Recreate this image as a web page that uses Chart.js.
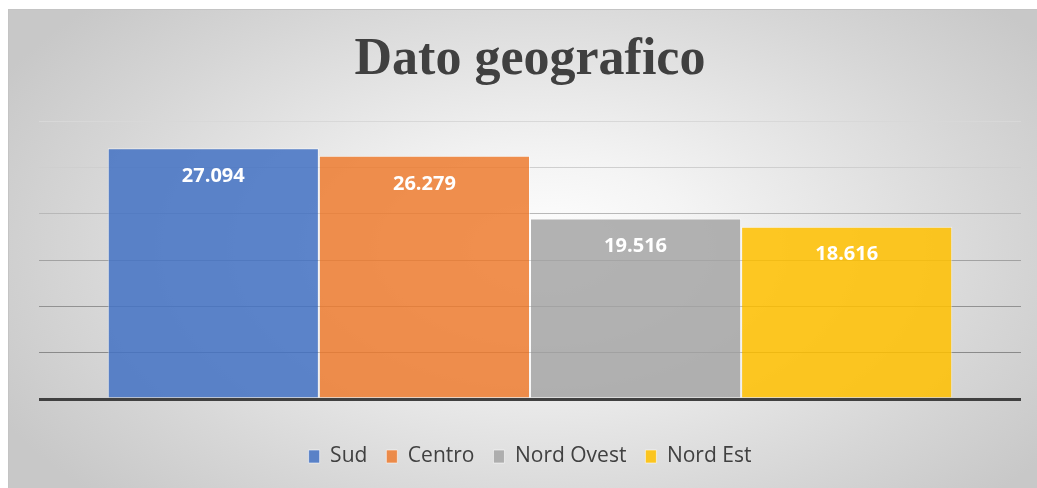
<!DOCTYPE html>
<html>
<head>
<meta charset="utf-8">
<script src="https://cdn.jsdelivr.net/npm/chart.js@4.4.1/dist/chart.umd.min.js"></script>
<style>
    body { margin: 0; background: #fff; }
    .wrap {
        position: absolute; left: 8px; top: 9px; width: 1029px; height: 479px;
        background: radial-gradient(ellipse 60% 75% at 52% 50%, #ffffff 0%, #f4f4f4 25%, #d6d6d6 75%, #c8c8c8 100%);
        border-top: 1px solid #c4c4c4; border-left: 1px solid #c4c4c4;
        box-sizing: border-box;
    }
</style>
</head>
<body>
<div class="wrap"><canvas id="geo"></canvas></div>
<script>
// dati
const regions = ['Sud', 'Centro', 'Nord Ovest', 'Nord Est'];
const values = [27094, 26279, 19516, 18616];
const colors = ['rgba(68,114,196,0.86)', 'rgba(237,125,49,0.86)', 'rgba(165,165,165,0.86)', 'rgba(255,192,0,0.86)'];
const yMax = 30000, yStep = 5000;
// colore delle linee della griglia, dal basso verso l'alto
const gridColors = ['#404040', '#8a8a8a', '#929292', '#a2a2a2', '#b8b8b8', '#cfcfcf', '#d8d8d8'];

function formatIt(n) {
    return String(n).replace(/\B(?=(\d{3})+(?!\d))/g, '.');
}

// etichette bianche dentro le barre
const barLabels = {
    id: 'barLabels',
    afterDatasetsDraw(chart) {
        let ctx = chart.ctx;
        ctx.save();
        ctx.fillStyle = '#ffffff';
        ctx.font = 'bold 20px "Open Sans"';
        ctx.textAlign = 'center';
        ctx.textBaseline = 'middle';
        chart.data.datasets.forEach((ds, i) => {
            let bar = chart.getDatasetMeta(i).data[0];
            ctx.fillText(formatIt(ds.data[0]), bar.x, bar.y + 28);
        });
        ctx.restore();
    }
};

let datasets = regions.map((name, i) => ({
    label: name,
    data: [values[i]],
    backgroundColor: colors[i],
    borderColor: 'rgba(255,255,255,0.55)',
    borderWidth: 1
}));

let ctx = document.getElementById('geo').getContext('2d');
var geoChart = new Chart(ctx, {
    type: 'bar',
    data: { labels: [''], datasets: datasets },
    plugins: [barLabels],
    options: {
        responsive: true,
        maintainAspectRatio: false,
        animation: false,
        layout: { padding: { left: 30, right: 16, top: 0, bottom: 11 } },
        plugins: {
            title: {
                display: true,
                text: 'Dato geografico',
                color: '#404040',
                font: { family: '"Liberation Serif"', size: 52, weight: 'bold' },
                padding: { top: 19, bottom: 30 }
            },
            legend: {
                position: 'bottom',
                labels: {
                    color: '#404040',
                    font: { family: '"Open Sans"', size: 21 },
                    boxWidth: 11,
                    boxHeight: 13,
                    padding: 19
                }
            },
            tooltip: { enabled: false }
        },
        datasets: { bar: { categoryPercentage: 0.86, barPercentage: 1 } },
        scales: {
            x: {
                ticks: { display: false },
                grid: { display: false },
                border: { display: false },
                afterFit: s => { s.height = 28; }
            },
            y: {
                min: 0,
                max: yMax,
                ticks: { display: false, stepSize: yStep },
                border: { display: false },
                grid: {
                    drawTicks: false,
                    color: c => gridColors[Math.round(c.tick.value / yStep)],
                    lineWidth: c => c.tick.value === 0 ? 3 : 1
                }
            }
        }
    }
});
</script>
</body>
</html>
